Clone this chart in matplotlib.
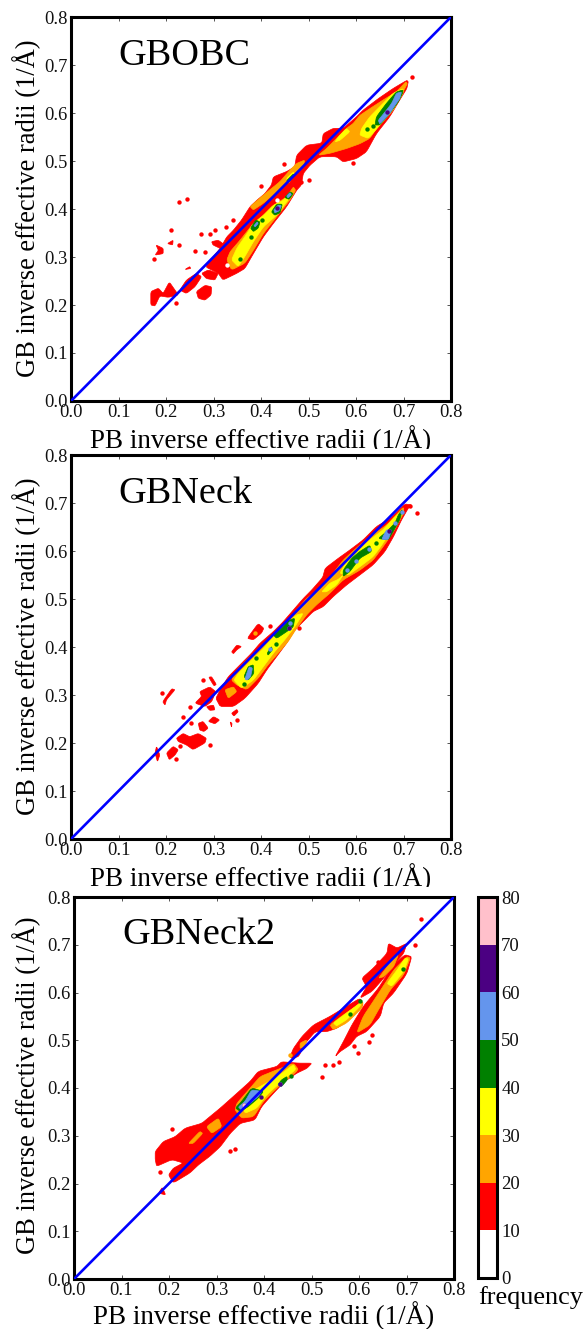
#!/usr/bin/env python3
"""Inverse effective radii, GB against PB, for GBOBC, GBNeck and GBNeck2."""

import matplotlib

matplotlib.use("Agg")
import matplotlib.pyplot as plt
import numpy as np
from matplotlib.cm import ScalarMappable
from matplotlib.colors import BoundaryNorm, ListedColormap
from matplotlib.transforms import Bbox

plt.rcParams["font.family"] = ["Liberation Serif", "DejaVu Serif"]

W, H = 586, 1329

levels = [0, 10, 20, 30, 40, 50, 60, 70, 80]
level_colors = ["white", "red", "orange", "yellow", "green", "cornflowerblue", "indigo", "pink"]
ticks = [0.0, 0.1, 0.2, 0.3, 0.4, 0.5, 0.6, 0.7, 0.8]

# ---- GBOBC: outlines of the contour regions, (PB, GB)
obc_red = [
    [(.707, .668), (.678, .651), (.647, .630), (.615, .606), (.601, .592), (.573, .568), (.552, .568), (.531, .557),
     (.528, .537), (.496, .533), (.475, .512), (.471, .488), (.454, .478), (.426, .467), (.422, .450), (.408, .432),
     (.391, .418), (.377, .405), (.359, .377), (.342, .356), (.328, .342), (.314, .318), (.282, .280), (.310, .266),
     (.320, .252), (.349, .266), (.366, .276), (.384, .307), (.405, .342), (.426, .370), (.454, .405), (.475, .439),
     (.485, .450), (.489, .474), (.503, .491), (.524, .509), (.559, .509), (.573, .498), (.601, .505), (.622, .519),
     (.643, .557), (.671, .592), (.692, .627), (.707, .651), (.710, .665)],
    [(.168, .228), (.184, .235), (.194, .224), (.207, .248), (.219, .231), (.226, .221), (.205, .216), (.187, .219),
     (.177, .198), (.168, .200)],
    [(.229, .231), (.243, .252), (.264, .266), (.275, .259), (.261, .238), (.243, .224)],
    [(.264, .228), (.282, .241), (.296, .238), (.295, .221), (.282, .210), (.268, .214)],
    [(.275, .266), (.289, .273), (.310, .266), (.303, .252), (.285, .255)],
    [(.179, .325), (.194, .318), (.194, .307), (.177, .304), (.184, .314)],
    [(.203, .328), (.215, .335), (.214, .325)],
    [(.296, .332), (.310, .335), (.324, .325), (.314, .318), (.299, .325)],
    [(.240, .274), (.250, .280), (.252, .276)],
]
obc_red_dots = [(.227, .414), (.245, .421), (.210, .357), (.227, .325), (.292, .347), (.303, .356), (.326, .363),
                (.342, .377), (.273, .347), (.261, .312), (.282, .311), (.175, .296), (.449, .493), (.401, .448),
                (.501, .460), (.485, .457), (.594, .495), (.717, .675), (.222, .205)]
obc_orange = [
    [(.705, .665), (.685, .644), (.657, .627), (.629, .609), (.608, .595), (.594, .578), (.580, .568), (.559, .547),
     (.538, .526), (.521, .512), (.545, .516), (.580, .526), (.608, .536), (.629, .547), (.650, .578), (.678, .609),
     (.699, .644), (.708, .661)],
    [(.475, .495), (.492, .502), (.489, .488), (.468, .471), (.454, .457), (.433, .436), (.405, .412), (.384, .398),
     (.377, .405), (.405, .429), (.440, .457), (.461, .481)],
    [(.468, .446), (.454, .425), (.433, .412), (.405, .384), (.384, .370), (.356, .335), (.335, .311), (.328, .294),
     (.338, .273), (.366, .287), (.384, .314), (.405, .349), (.433, .384), (.461, .419), (.473, .439)],
]
obc_yellow = [
    [(.699, .651), (.678, .641), (.657, .620), (.629, .592), (.612, .568), (.608, .554), (.626, .547), (.647, .571),
     (.678, .606), (.699, .641)],
    [(.580, .568), (.587, .561), (.566, .543), (.556, .540), (.563, .550)],
    [(.454, .464), (.468, .477), (.471, .471), (.457, .453)],
    [(.461, .436), (.447, .418), (.426, .408), (.405, .387), (.384, .370), (.366, .342), (.349, .318), (.338, .294),
     (.352, .280), (.366, .301), (.384, .332), (.405, .363), (.433, .387), (.454, .415), (.468, .432)],
]
obc_green = [
    [(.699, .648), (.685, .644), (.664, .620), (.643, .592), (.640, .575), (.650, .575), (.671, .599), (.689, .623),
     (.698, .641)],
    [(.450, .424), (.461, .436), (.468, .432), (.459, .420)],
    [(.422, .394), (.433, .410), (.445, .410), (.440, .392), (.429, .387)],
    [(.378, .360), (.389, .377), (.398, .373), (.394, .360), (.384, .353)],
    [(.454, .459), (.468, .473), (.470, .469), (.457, .455)],
]
obc_green_dots = [(.624, .566), (.635, .573), (.356, .296), (.378, .341), (.403, .378)]
obc_blue = [
    [(.696, .644), (.685, .641), (.675, .620), (.661, .602), (.647, .585), (.650, .577), (.671, .599), (.682, .616),
     (.692, .630)],
    [(.454, .427), (.461, .434), (.464, .430), (.457, .423)],
    [(.427, .398), (.436, .408), (.443, .407), (.438, .396), (.429, .392)],
    [(.385, .365), (.392, .373), (.394, .370), (.388, .363)],
]
obc_purple_dots = [(.666, .602), (.434, .403)]
obc_holes = [(.433, .418), (.328, .283)]

# ---- GBNeck
neck_red = [
    [(.703, .698), (.672, .668), (.643, .651), (.615, .623), (.587, .602), (.563, .585), (.535, .564), (.530, .545),
     (.507, .519), (.489, .501), (.468, .477), (.447, .453), (.426, .432), (.398, .408), (.380, .387), (.356, .363),
     (.331, .338), (.314, .311), (.305, .293), (.314, .276), (.342, .276), (.366, .293), (.394, .324), (.412, .352),
     (.433, .380), (.454, .408), (.471, .435), (.489, .453), (.510, .474), (.531, .484), (.552, .505), (.580, .529),
     (.608, .550), (.636, .571), (.661, .599), (.679, .630), (.696, .665), (.710, .689), (.717, .696)],
    [(.371, .418), (.394, .449), (.406, .439), (.401, .429), (.384, .415)],
    [(.338, .390), (.349, .404), (.359, .401), (.349, .394), (.342, .386)],
    [(.193, .286), (.212, .313), (.219, .311), (.201, .290), (.198, .279)],
    [(.290, .337), (.296, .338), (.306, .322), (.301, .319)],
    [(.261, .283), (.275, .297), (.271, .307), (.292, .317), (.305, .307), (.296, .286), (.282, .276)],
    [(.285, .276), (.300, .279), (.303, .269), (.292, .268)],
    [(.222, .210), (.236, .220), (.250, .213), (.268, .220), (.285, .210), (.282, .200), (.257, .186), (.243, .196),
     (.226, .203)],
    [(.201, .179), (.215, .193), (.226, .186), (.219, .175), (.207, .165)],
    [(.177, .179), (.180, .193), (.187, .175), (.182, .161)],
    [(.268, .241), (.278, .245), (.289, .231), (.280, .224), (.271, .227)],
    [(.289, .245), (.300, .255), (.313, .248), (.303, .240)],
    [(.338, .262), (.349, .270), (.352, .265), (.343, .256)],
    [(.335, .244), (.339, .241), (.338, .233)],
]
neck_red_dots = [(.236, .255), (.250, .274), (.277, .331), (.419, .444), (.481, .440), (.728, .680), (.349, .248),
                 (.292, .196), (.229, .194), (.222, .166), (.252, .241), (.192, .305), (.714, .694)]
neck_orange = [
    [(.700, .692), (.665, .654), (.629, .630), (.601, .606), (.573, .581), (.549, .550), (.524, .522), (.496, .501),
     (.475, .477), (.454, .453), (.433, .435), (.405, .404), (.377, .380), (.349, .352), (.338, .331), (.349, .321),
     (.370, .311), (.394, .335), (.415, .363), (.436, .387), (.457, .411), (.475, .439), (.496, .467), (.517, .488),
     (.545, .512), (.573, .540), (.608, .560), (.636, .581), (.657, .609), (.679, .640), (.700, .678)],
    [(.324, .311), (.342, .317), (.349, .307), (.331, .293)],
]
neck_orange_dots = [(.387, .429)]
neck_yellow = [
    [(.700, .687), (.679, .668), (.657, .644), (.629, .623), (.601, .599), (.580, .578), (.566, .553), (.584, .550),
     (.608, .567), (.636, .588), (.654, .612), (.675, .644), (.696, .675)],
    [(.475, .467), (.454, .449), (.433, .429), (.405, .397), (.380, .373), (.352, .345), (.343, .331), (.359, .314),
     (.384, .331), (.405, .359), (.426, .387), (.450, .415), (.471, .442), (.489, .470)],
    [(.528, .515), (.545, .533), (.563, .541), (.573, .550), (.559, .529), (.538, .515)],
]
neck_green = [
    [(.698, .687), (.689, .675), (.682, .658), (.664, .640), (.647, .626), (.668, .623), (.678, .640), (.692, .665)],
    [(.629, .612), (.608, .599), (.591, .585), (.573, .560), (.573, .547), (.587, .557), (.608, .585), (.633, .599)],
    [(.471, .460), (.457, .455), (.447, .442), (.426, .425), (.433, .418), (.454, .432), (.468, .442)],
    [(.384, .363), (.373, .359), (.364, .338), (.373, .331), (.385, .345)],
    [(.413, .387), (.422, .401), (.424, .394), (.415, .383)],
]
neck_green_dots = [(.643, .616), (.389, .378), (.431, .406), (.364, .322)]
neck_blue = [
    [(.654, .624), (.664, .644), (.675, .644), (.668, .624)],
    [(.366, .333), (.375, .359), (.382, .356), (.378, .338), (.371, .331)],
]
neck_blue_dots = [(.683, .658), (.627, .604), (.599, .580), (.582, .560), (.462, .451), (.459, .439), (.419, .395),
                  (.696, .682)]
neck_purple_dots = [(.669, .642), (.459, .439)]

# ---- GBNeck2
neck2_red = [
    [(.171, .267), (.188, .288), (.213, .298), (.234, .316), (.269, .326), (.286, .340), (.308, .358), (.343, .389),
     (.371, .414), (.388, .435), (.427, .445), (.437, .455), (.473, .452), (.501, .452), (.490, .441), (.469, .431),
     (.444, .414), (.420, .389), (.395, .361), (.381, .333), (.350, .326), (.329, .305), (.308, .277), (.286, .257),
     (.262, .239), (.244, .222), (.209, .201), (.199, .218), (.209, .232), (.230, .243), (.206, .250), (.174, .236),
     (.171, .250)],
    [(.455, .466), (.462, .483), (.480, .508), (.504, .532), (.539, .550), (.567, .567), (.602, .588), (.609, .574),
     (.595, .560), (.574, .539), (.553, .525), (.532, .518), (.508, .518), (.487, .494), (.473, .466), (.458, .462)],
    [(.550, .466), (.567, .497), (.585, .532), (.609, .571), (.641, .609), (.672, .658), (.697, .679), (.711, .675),
     (.701, .640), (.673, .599), (.652, .578), (.645, .550), (.616, .518), (.595, .508), (.581, .490), (.560, .476)],
    [(.606, .630), (.630, .651), (.659, .682), (.662, .703), (.680, .693), (.701, .703), (.694, .682), (.676, .661),
     (.652, .630), (.627, .602), (.602, .588), (.616, .612)],
    [(.178, .180), (.186, .192), (.193, .176)],
]
neck2_red_dots = [(.731, .754), (.718, .700), (.639, .663), (.627, .511), (.620, .497), (.590, .487), (.597, .473),
                  (.545, .448), (.529, .448), (.522, .424), (.339, .272), (.329, .269), (.207, .314), (.180, .225),
                  (.557, .454)]
neck2_orange = [
    [(.241, .284), (.265, .309), (.271, .305), (.251, .284)],
    [(.279, .319), (.304, .337), (.311, .319), (.290, .305)],
    [(.343, .368), (.371, .400), (.392, .424), (.427, .438), (.462, .452), (.473, .438), (.427, .400), (.399, .372),
     (.378, .340), (.353, .337), (.339, .354)],
    [(.476, .494), (.490, .501), (.487, .487), (.476, .483)],
    [(.539, .532), (.567, .553), (.609, .581), (.606, .567), (.574, .536), (.546, .522)],
    [(.595, .515), (.609, .550), (.637, .592), (.673, .647), (.701, .675), (.708, .672), (.694, .637), (.666, .606),
     (.641, .564), (.623, .532)],
    [(.641, .630), (.673, .672), (.683, .679), (.673, .654), (.652, .633)],
]
neck2_orange_dots = [(.455, .469)]
neck2_yellow = [
    [(.353, .368), (.374, .393), (.399, .407), (.434, .428), (.462, .449), (.467, .439), (.441, .417), (.406, .386),
     (.385, .358), (.360, .347)],
    [(.546, .536), (.574, .557), (.606, .581), (.602, .571), (.574, .543), (.553, .530)],
    [(.659, .619), (.680, .647), (.697, .672), (.704, .670), (.694, .644), (.669, .613)],
]
neck2_green = [
    [(.340, .358), (.353, .372), (.374, .400), (.399, .393), (.388, .379), (.367, .361), (.350, .351)],
    [(.429, .407), (.437, .417), (.448, .424), (.449, .417), (.437, .403)],
]
neck2_green_dots = [(.457, .426), (.692, .650), (.581, .555), (.602, .582)]
neck2_blue = [
    [(.346, .360), (.360, .372), (.374, .396), (.395, .393), (.388, .382), (.367, .365), (.353, .354)],
]
neck2_blue_dots = [(.434, .409)]
neck2_purple_dots = [(.358, .364), (.434, .409), (.394, .382)]
neck2_pink_dots = [(.358, .364)]


def smooth(points, rounds=2):
    """Round off a closed outline by corner cutting."""
    pts = np.array(points)
    for _ in range(rounds):
        nxt = np.roll(pts, -1, axis=0)
        pts = np.column_stack([0.88 * pts + 0.12 * nxt, 0.12 * pts + 0.88 * nxt]).reshape(-1, 2)
    return pts


def add_axes_px(left, top, right, bottom):
    return plt.gcf().add_axes([left / W, 1 - bottom / H, (right - left) / W, (bottom - top) / H])


def draw_panel(box, title, title_xy, label_y, ylabel_y, clip_bottom, regions):
    ax = add_axes_px(*box)
    for color, polys, dots in regions:
        for poly in polys:
            xy = smooth(poly)
            ax.fill(xy[:, 0], xy[:, 1], color=color, lw=0.5, zorder=2)
        if dots:
            ax.scatter(*zip(*dots), s=10, color=color, lw=0, zorder=2)
    ax.plot([0, 0.8], [0, 0.8], color="#0000ff", lw=1.9, zorder=3)

    ax.set_xlim(0, 0.8)
    ax.set_ylim(0, 0.8)
    ax.set_xticks(ticks)
    ax.set_yticks(ticks)
    ax.set_xticklabels([f"{t:.1f}" for t in ticks])
    ax.set_yticklabels([f"{t:.1f}" for t in ticks])
    ax.tick_params(direction="in", top=True, right=True, length=3, width=0.5, labelsize=13.3, pad=2.5,
                   colors="#111111")
    for spine in ax.spines.values():
        spine.set_linewidth(2.2)

    fig = plt.gcf()
    fig.text(title_xy[0] / W, 1 - title_xy[1] / H, title, fontsize=27.5, ha="left", va="baseline")
    xl = fig.text(261 / W + (box[0] - 71) / W, 1 - label_y / H, "PB inverse effective radii (1/Å)",
                  fontsize=19.5, ha="center", va="baseline")
    xl.set_clip_box(Bbox([[0, H - clip_bottom], [W, H]]))
    xl.set_clip_on(True)
    fig.text(27 / W, 1 - ylabel_y / H, "GB inverse effective radii (1/Å)", fontsize=19.1, rotation=90,
             ha="center", va="center")


def main():
    fig = plt.figure(figsize=(W / 100, H / 100), dpi=100, facecolor="white")

    draw_panel((71, 17, 451, 401), "GBOBC", (118, 65), 448, 208, 449, [
        ("red", obc_red, obc_red_dots),
        ("orange", obc_orange, []),
        ("yellow", obc_yellow, []),
        ("green", obc_green, obc_green_dots),
        ("cornflowerblue", obc_blue, []),
        ("indigo", [], obc_purple_dots),
        ("white", [], obc_holes),
    ])
    draw_panel((71, 455, 451, 839), "GBNeck", (118, 503), 886, 646, 887, [
        ("red", neck_red, neck_red_dots),
        ("orange", neck_orange, neck_orange_dots),
        ("yellow", neck_yellow, []),
        ("green", neck_green, neck_green_dots),
        ("cornflowerblue", neck_blue, neck_blue_dots),
        ("indigo", [], neck_purple_dots),
    ])
    draw_panel((74, 897, 454, 1279), "GBNeck2", (122, 944), 1324, 1085, 1329, [
        ("red", neck2_red, neck2_red_dots),
        ("orange", neck2_orange, neck2_orange_dots),
        ("yellow", neck2_yellow, []),
        ("green", neck2_green, neck2_green_dots),
        ("cornflowerblue", neck2_blue, neck2_blue_dots),
        ("indigo", [], neck2_purple_dots),
        ("pink", [], neck2_pink_dots),
    ])

    cax = add_axes_px(478, 897, 497, 1278)
    norm = BoundaryNorm(levels, len(level_colors))
    cbar = fig.colorbar(ScalarMappable(norm=norm, cmap=ListedColormap(level_colors)), cax=cax, ticks=levels,
                        spacing="proportional")
    cbar.ax.tick_params(length=0, labelsize=13.5, pad=3, colors="#111111")
    cbar.outline.set_linewidth(2.2)
    fig.text(478 / W, 1 - 1304 / H, "frequency", fontsize=18.9, ha="left", va="baseline")

    fig.savefig("out.png", dpi=100)


if __name__ == "__main__":
    main()
